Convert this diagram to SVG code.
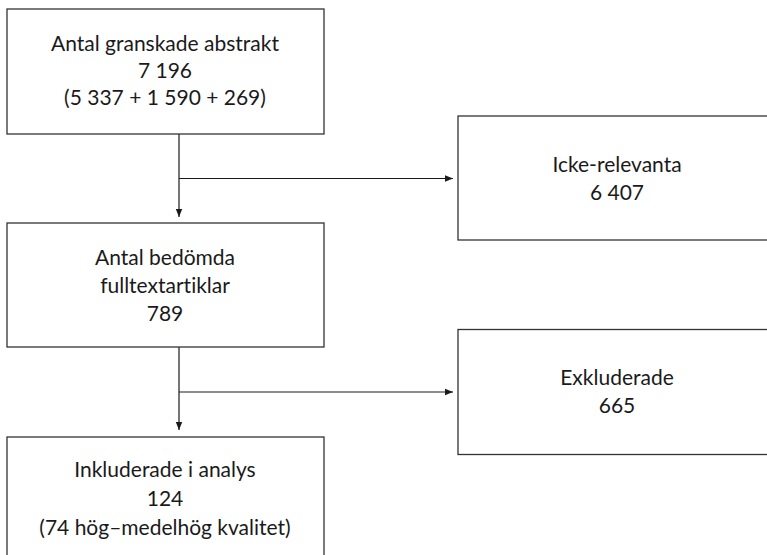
<svg xmlns="http://www.w3.org/2000/svg" width="767" height="555" viewBox="0 0 767 555">
<style>
.box{fill:#fff;stroke:#333;stroke-width:1.3}
.t{font-family:Lato,"Open Sans","Liberation Sans",sans-serif;font-size:21px;fill:#1a1a1a;text-anchor:middle;font-variant-ligatures:none;font-feature-settings:"liga" 0}
.c{fill:none;stroke:#1a1a1a;stroke-width:1.2}
</style>
<defs>
<marker id="ah" viewBox="0 0 10 10" refX="10" refY="5" markerWidth="8" markerHeight="8" markerUnits="userSpaceOnUse" orient="auto">
<path d="M0,1 L10,5 L0,9 Z" fill="#1a1a1a"/>
</marker>
</defs>
<rect width="767" height="555" fill="#fff"/>
<g id="connectors">
<path class="c" d="M179,134 V217" marker-end="url(#ah)"/>
<path class="c" d="M179,178.5 H453" marker-end="url(#ah)"/>
<path class="c" d="M179,347 V430" marker-end="url(#ah)"/>
<path class="c" d="M179,392 H453" marker-end="url(#ah)"/>
</g>
<g id="n1">
<rect class="box" x="7" y="9" width="317" height="125"/>
<text class="t" x="165" y="51">Antal granskade abstrakt</text>
<text class="t" x="165" y="78">7 196</text>
<text class="t" x="165" y="105">(5 337 + 1 590 + 269)</text>
</g>
<g id="n2">
<rect class="box" x="458" y="116" width="320" height="124"/>
<text class="t" x="617" y="171.5">Icke-relevanta</text>
<text class="t" x="617" y="199.5">6 407</text>
</g>
<g id="n3">
<rect class="box" x="7" y="223" width="317" height="124"/>
<text class="t" x="165" y="264.5">Antal bedömda</text>
<text class="t" x="165" y="292.5">fulltextartiklar</text>
<text class="t" x="165" y="320.5">789</text>
</g>
<g id="n4">
<rect class="box" x="458" y="329.5" width="320" height="125"/>
<text class="t" x="617" y="385">Exkluderade</text>
<text class="t" x="617" y="413">665</text>
</g>
<g id="n5">
<rect class="box" x="7" y="437" width="317" height="130"/>
<text class="t" x="165" y="477">Inkluderade i analys</text>
<text class="t" x="165" y="506">124</text>
<text class="t" x="165" y="535">(74 hög–medelhög kvalitet)</text>
</g>
</svg>
